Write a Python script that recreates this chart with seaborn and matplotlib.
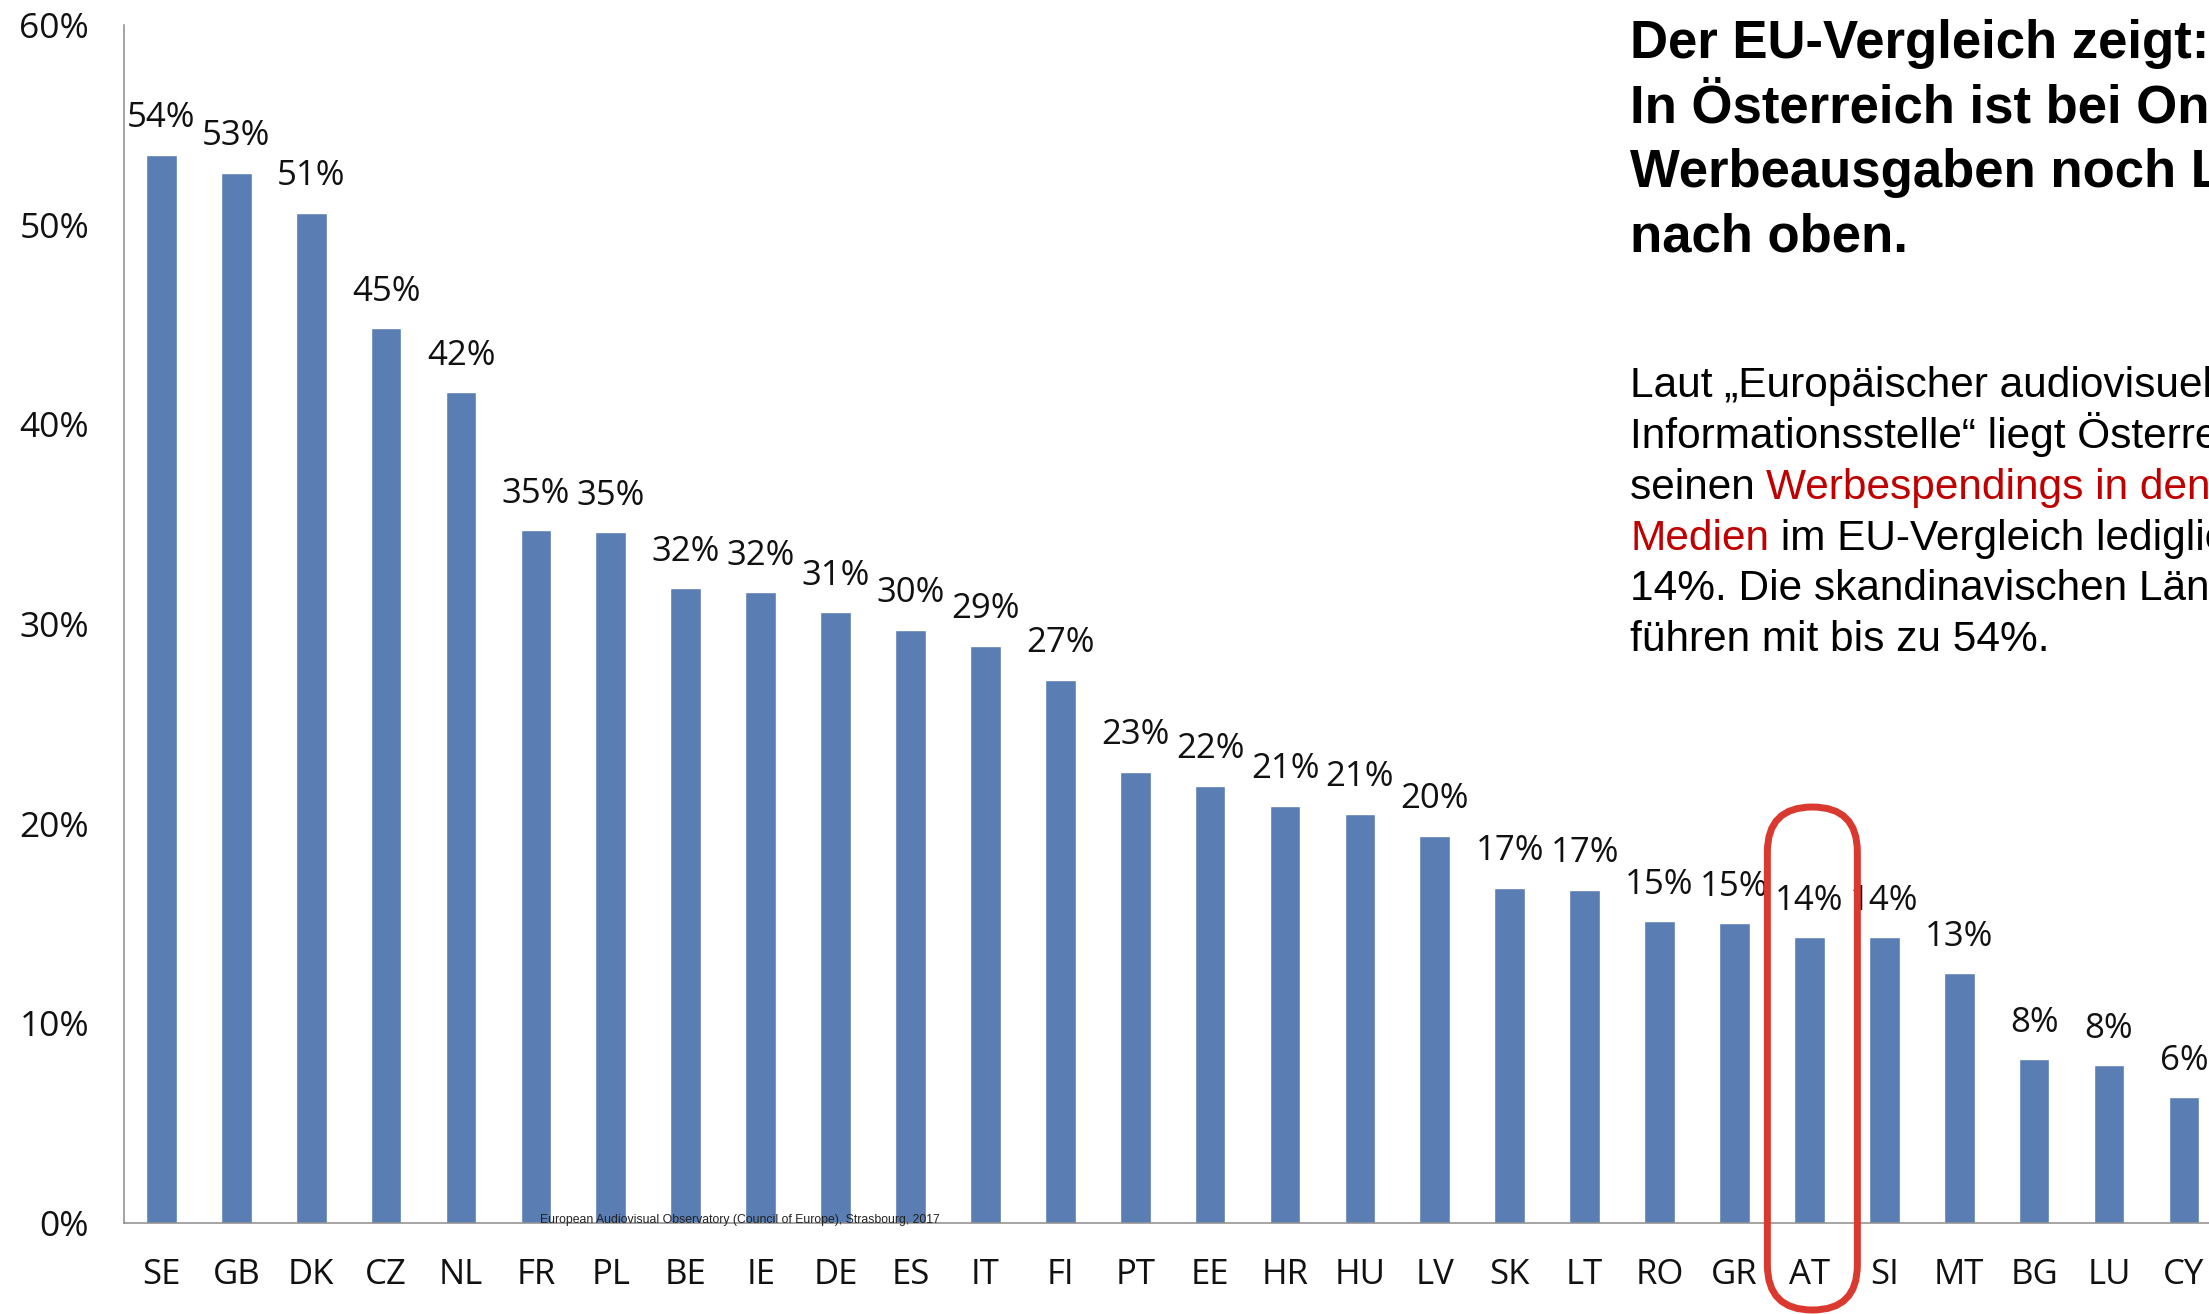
#imports
import numpy as np
import seaborn as sns
import matplotlib.pyplot as plt
from matplotlib.patches import FancyBboxPatch
from matplotlib.transforms import IdentityTransform

#data
countries = ['SE', 'GB', 'DK', 'CZ', 'NL', 'FR', 'PL', 'BE', 'IE', 'DE', 'ES', 'IT', 'FI', 'PT',
             'EE', 'HR', 'HU', 'LV', 'SK', 'LT', 'RO', 'GR', 'AT', 'SI', 'MT', 'BG', 'LU', 'CY']
shares = [53.5, 52.6, 50.6, 44.8, 41.6, 34.7, 34.6, 31.8, 31.6, 30.6, 29.7, 28.9, 27.2, 22.6,
          21.9, 20.9, 20.5, 19.4, 16.8, 16.7, 15.1, 15.0, 14.3, 14.3, 12.5, 8.2, 7.9, 6.3]
share_labels = ['54%', '53%', '51%', '45%', '42%', '35%', '35%', '32%', '32%', '31%', '30%', '29%', '27%', '23%',
                '22%', '21%', '21%', '20%', '17%', '17%', '15%', '15%', '14%', '14%', '13%', '8%', '8%', '6%']
y_ticks = [0, 10, 20, 30, 40, 50, 60]
highlight = 'AT'

title_lines = ['Der EU-Vergleich zeigt:',
               'In Österreich ist bei Online-',
               'Werbeausgaben noch Luft',
               'nach oben.']
source = 'European Audiovisual Observatory (Council of Europe), Strasbourg, 2017'

bar_color = '#5A7DB3'
axis_color = '#8C8C8C'
red = '#C00000'

#figure
sns.set_style('white')
fig = plt.figure(figsize=(22.09, 13.14), dpi=100)
ax = fig.add_axes([0.0561, 0.0693, 0.9495, 0.9117])

sns.barplot(x=countries, y=shares, color=bar_color, saturation=1, width=0.41, ax=ax)
ax.set_xlim(-0.5, len(countries) - 0.5)
ax.set_ylim(0, 60)

#value labels
ax.bar_label(ax.containers[0], labels=share_labels, padding=14, fontsize=25,
             family='Open Sans', color='#111111')

#axes styling
ax.set_yticks(y_ticks)
ax.set_yticklabels([f'{v}%' for v in y_ticks], fontsize=25.5, family='Open Sans', color='#111111')
ax.set_xticks(range(len(countries)))
ax.set_xticklabels(countries, fontsize=25, family='Open Sans', color='#111111')
ax.set_xticks(np.arange(-0.5, len(countries), 1), minor=True)
ax.tick_params(axis='x', which='major', length=0, pad=25)
ax.tick_params(axis='x', which='minor', length=9, width=1.1, color=axis_color, direction='out')
ax.tick_params(axis='y', length=7, width=1.1, color=axis_color, direction='out', pad=18)
for s in ['top', 'right']:
    ax.spines[s].set_visible(False)
for s in ['left', 'bottom']:
    ax.spines[s].set_color(axis_color)
    ax.spines[s].set_linewidth(1.1)
ax.set_xlabel('')
ax.set_ylabel('')

#source note
fig.text(0.2445, 0.0712, source, fontsize=8.8, family='Liberation Sans', color='#222222', va='center')

#title block on the right (runs past the right edge like the original slide)
H = 1314.0
tx = 1630 / 2209
for i, line in enumerate(title_lines):
    fig.text(tx, 1 - (58 + i * 64.6) / H, line, fontsize=38, fontweight='bold',
             family='Liberation Sans', va='baseline', color='black')

#body text with red parts
base = [397, 448, 499, 550, 600, 651]
fs = 30.5
kw = dict(fontsize=fs, family='Liberation Sans', va='baseline')
fig.text(tx, 1 - base[0] / H, 'Laut „Europäischer audiovisueller', color='black', **kw)
fig.text(tx, 1 - base[1] / H, 'Informationsstelle“ liegt Österreich mit', color='black', **kw)
t3 = fig.text(tx, 1 - base[2] / H, 'seinen ', color='black', **kw)
ax.annotate('Werbespendings in den Online-', xy=(1, 0), xycoords=t3, color=red,
            fontsize=fs, family='Liberation Sans', va='bottom', annotation_clip=False)
t4 = fig.text(tx, 1 - base[3] / H, 'Medien', color=red, **kw)
ax.annotate(' im EU-Vergleich lediglich bei', xy=(1, 0), xycoords=t4, color='black',
            fontsize=fs, family='Liberation Sans', va='bottom', annotation_clip=False)
fig.text(tx, 1 - base[4] / H, '14%. Die skandinavischen Länder', color='black', **kw)
fig.text(tx, 1 - base[5] / H, 'führen mit bis zu 54%.', color='black', **kw)

#red outline around the highlighted country
cx = ax.transData.transform((countries.index(highlight), 0))[0]
w = 90
ring = FancyBboxPatch((cx - w / 2 + 3, 4), w, 503, boxstyle=f'round,pad=0,rounding_size={w / 2}',
                      transform=IdentityTransform(), fill=False, edgecolor='#D9392F', linewidth=5)
fig.add_artist(ring)

plt.savefig('out.png', dpi=100)
